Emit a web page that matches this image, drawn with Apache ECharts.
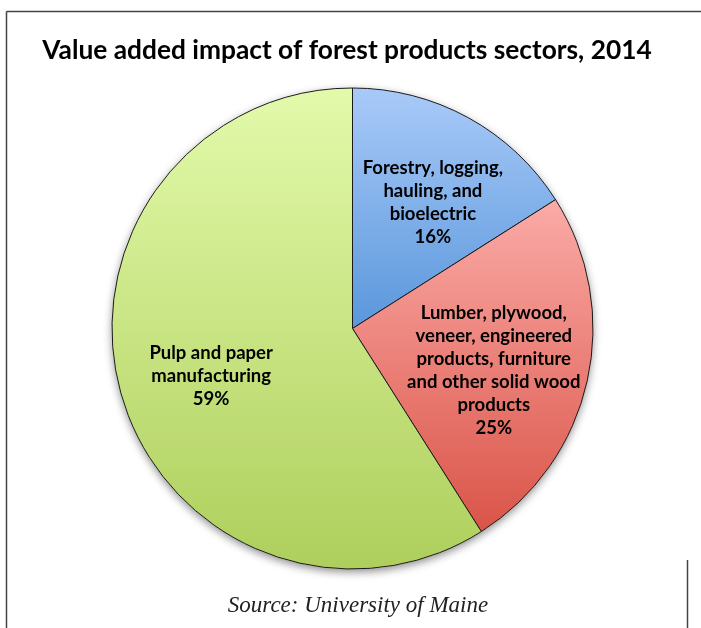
<!DOCTYPE html>
<html>
<head>
<meta charset="utf-8">
<script src="https://cdn.jsdelivr.net/npm/echarts@6/dist/echarts.min.js"></script>
<style>
html,body{margin:0;padding:0;background:#fff;}
#chart{width:701px;height:628px;}
</style>
</head>
<body>
<div id="chart"></div>
<script>
// ---- data ----
const titleText = 'Value added impact of forest products sectors, 2014';
const sourceText = 'Source: University of Maine';
const categories = ['Forestry, logging,\nhauling, and\nbioelectric', 'Lumber, plywood,\nveneer, engineered\nproducts, furniture\nand other solid wood\nproducts', 'Pulp and paper\nmanufacturing'];
const values = [16, 25, 59];

// ---- styles ----
const gradTop = ['#a9caf8', '#fbaba7', '#e3faab'];
const gradBottom = ['#5a97dc', '#da5448', '#aecf5c'];
const labelOffsets = [[21, -18], [21, 15], [-23, 13]];

const chart = echarts.init(document.getElementById('chart'), null, {renderer: 'canvas'});

const pieData = categories.map((name, i) => ({
  name: name,
  value: values[i],
  itemStyle: {
    color: new echarts.graphic.LinearGradient(0, 0, 0, 1, [
      {offset: 0, color: gradTop[i]},
      {offset: 1, color: gradBottom[i]}
    ])
  }
}));

const center = [352.5, 328.5];
const radius = 240.5;

chart.setOption({
  animation: false,
  title: [{
    text: titleText,
    left: 342,
    top: 33,
    textAlign: 'center',
    textStyle: {fontFamily: 'Lato', fontWeight: 'bold', fontSize: 26.3, color: '#000'}
  }, {
    text: sourceText,
    left: 353,
    top: 589,
    textAlign: 'center',
    textStyle: {fontFamily: 'Liberation Serif', fontStyle: 'italic', fontWeight: 'normal', fontSize: 23, color: '#222'}
  }],
  graphic: [
    {type: 'line', shape: {x1: 6.5, y1: 11.5, x2: 701, y2: 11.5}, style: {stroke: '#444', lineWidth: 1.5}, z: 10},
    {type: 'line', shape: {x1: 6.5, y1: 11.5, x2: 6.5, y2: 628}, style: {stroke: '#444', lineWidth: 1.5}, z: 10},
    {type: 'line', shape: {x1: 687.5, y1: 560, x2: 687.5, y2: 628}, style: {stroke: '#444', lineWidth: 1.5}, z: 10}
  ],
  series: [{
    type: 'pie',
    silent: true,
    center: center,
    radius: radius,
    z: 1,
    label: {show: false},
    labelLine: {show: false},
    itemStyle: {color: '#fff', shadowBlur: 8, shadowOffsetY: 3, shadowColor: 'rgba(0,0,0,0.45)'},
    data: [{name: 'shadow', value: 1}]
  }, {
    type: 'pie',
    center: center,
    radius: radius,
    startAngle: 90,
    clockwise: true,
    z: 2,
    itemStyle: {borderColor: '#1a1a1a', borderWidth: 1},
    label: {
      show: true,
      position: 'inside',
      formatter: p => p.name + '\n' + p.value + '%',
      fontFamily: 'Lato',
      fontWeight: 'bold',
      fontSize: 18.5,
      lineHeight: 23,
      color: '#000',
      align: 'center'
    },
    labelLine: {show: false},
    labelLayout: function (params) {
      const o = labelOffsets[params.dataIndex];
      return {dx: o[0], dy: o[1]};
    },
    emphasis: {disabled: true},
    data: pieData
  }]
});
</script>
</body>
</html>
